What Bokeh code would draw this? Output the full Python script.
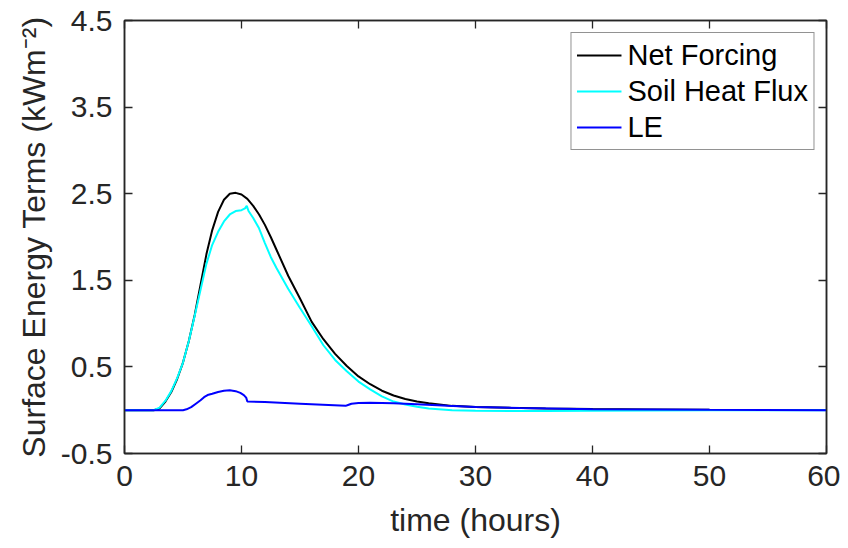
from bokeh.plotting import figure
from bokeh.models import LinearAxis, FixedTicker, Legend, LegendItem, Range1d
from bokeh.embed import file_html
from bokeh.resources import INLINE

# ---- data ----
t_net = [0, 2.5, 3.0, 3.5, 4.0, 4.5, 5.0, 5.5, 6.0, 6.5, 7.0, 7.5, 8.0, 8.5, 9.0, 9.5,
         10.0, 10.5, 11.0, 11.5, 12.0, 12.5, 13.0, 14.0, 15.0, 16.0, 17.0, 18.0, 19.0,
         20.0, 21.0, 22.0, 23.0, 24.0, 25.0, 26.0, 28.0, 30.0, 33.0, 36.0, 40.0, 45.0,
         50.0, 60.0]
net_forcing = [0, 0, 0.02, 0.10, 0.21, 0.36, 0.55, 0.80, 1.10, 1.45, 1.80, 2.08, 2.29,
               2.43, 2.50, 2.51, 2.49, 2.44, 2.36, 2.26, 2.14, 2.00, 1.85, 1.55, 1.29,
               1.02, 0.82, 0.65, 0.51, 0.39, 0.30, 0.225, 0.17, 0.13, 0.10, 0.08, 0.05,
               0.038, 0.027, 0.02, 0.014, 0.009, 0.005, 0.002]

t_soil = [0, 2.5, 3.0, 3.5, 4.0, 4.5, 5.0, 5.5, 6.0, 6.5, 7.0, 7.5, 8.0, 8.5, 9.0, 9.5,
          10.0, 10.3, 10.45, 10.6, 11.0, 11.5, 12.0, 12.5, 13.0, 14.0, 15.0, 16.0, 17.0,
          18.0, 19.0, 20.0, 21.0, 22.0, 23.0, 24.0, 25.0, 26.0, 28.0, 30.0, 33.0, 36.0,
          40.0, 45.0, 50.0, 60.0]
soil_heat_flux = [0, 0, 0.03, 0.11, 0.22, 0.37, 0.55, 0.80, 1.09, 1.39, 1.69, 1.91, 2.06,
                  2.18, 2.26, 2.30, 2.31, 2.33, 2.36, 2.30, 2.22, 2.10, 1.93, 1.77, 1.64,
                  1.40, 1.18, 0.97, 0.75, 0.58, 0.45, 0.33, 0.24, 0.16, 0.10, 0.065, 0.04,
                  0.02, 0.0, -0.006, -0.008, -0.008, -0.006, -0.004, -0.002, 0.0]

t_le = [0, 5.0, 5.3, 5.7, 6.1, 6.5, 6.8, 7.1, 7.5, 8.0, 8.5, 9.0, 9.5, 9.9, 10.2, 10.4,
        10.5, 12.0, 15.0, 18.9, 19.1, 19.4, 20.0, 21.0, 23.0, 25.0, 27.6, 30.0, 33.8,
        40.0, 50.0, 60.0]
le = [0, 0, 0.01, 0.035, 0.075, 0.115, 0.15, 0.175, 0.19, 0.21, 0.225, 0.23, 0.22, 0.20,
      0.175, 0.145, 0.10, 0.094, 0.075, 0.05, 0.06, 0.075, 0.082, 0.085, 0.08, 0.068,
      0.052, 0.038, 0.025, 0.012, 0.004, 0.0]

x_ticks = [0, 10, 20, 30, 40, 50, 60]
y_ticks = [-0.5, 0.5, 1.5, 2.5, 3.5, 4.5]
y_tick_labels = ["-0.5", "0.5", "1.5", "2.5", "3.5", "4.5"]

FONT = "Liberation Sans"
AX = "#262626"

p = figure(width=840, height=540, output_backend="svg", toolbar_location=None,
           x_range=Range1d(0, 60), y_range=Range1d(-0.5, 4.5),
           min_border_left=124, min_border_right=14, min_border_top=20,
           min_border_bottom=86)
p.xgrid.visible = False
p.ygrid.visible = False
p.outline_line_color = AX
p.outline_line_width = 1.5
p.background_fill_color = "white"
p.border_fill_color = "white"

r1 = p.line(t_net, net_forcing, line_color="#000000", line_width=2)
r2 = p.line(t_soil, soil_heat_flux, line_color="#00FFFF", line_width=2)
r3 = p.line(t_le, le, line_color="#0000FF", line_width=2)

def style(ax, labels=True):
    ax.axis_line_color = AX
    ax.axis_line_width = 1.5
    ax.major_tick_line_color = AX
    ax.major_tick_line_width = 1.3
    ax.major_tick_in = 8
    ax.major_tick_out = 0
    ax.minor_tick_line_color = None
    ax.major_label_text_font = FONT
    ax.major_label_text_color = AX
    ax.axis_label_text_font = FONT
    ax.axis_label_text_color = AX
    ax.axis_label_text_font_style = "normal"
    if labels:
        ax.major_label_text_font_size = "30px"
        ax.axis_label_text_font_size = "32px"
    else:
        ax.major_label_text_font_size = "0px"
        ax.major_label_text_color = None
        ax.major_label_standoff = 0
        ax.axis_label = None

xa = p.xaxis[0]
ya = p.yaxis[0]
xa.ticker = FixedTicker(ticks=x_ticks)
ya.ticker = FixedTicker(ticks=y_ticks)
ya.major_label_overrides = {t: s for t, s in zip(y_ticks, y_tick_labels)}
xa.axis_label = "time (hours)"
ya.axis_label = "Surface Energy Terms (kWm\u207b\u00b2)"
style(xa)
style(ya)
xa.major_label_standoff = 12
xa.axis_label_standoff = 13
ya.major_label_standoff = 12
ya.axis_label_standoff = 6

top = LinearAxis(ticker=FixedTicker(ticks=x_ticks))
right = LinearAxis(ticker=FixedTicker(ticks=y_ticks))
style(top, labels=False)
style(right, labels=False)
p.add_layout(top, "above")
p.add_layout(right, "right")

legend = Legend(items=[LegendItem(label="Net Forcing", renderers=[r1]),
                       LegendItem(label="Soil Heat Flux", renderers=[r2]),
                       LegendItem(label="LE", renderers=[r3])],
                location="top_right")
legend.margin = 12
legend.padding = 5
legend.spacing = 2
legend.glyph_width = 45
legend.glyph_height = 34
legend.label_height = 34
legend.label_standoff = 6
legend.label_text_font = FONT
legend.label_text_font_size = "29px"
legend.label_text_color = "#000000"
legend.border_line_color = AX
legend.border_line_width = 1.3
legend.background_fill_color = "white"
legend.background_fill_alpha = 1.0
p.add_layout(legend, "center")

open("out.html", "w").write(file_html(p, INLINE))
